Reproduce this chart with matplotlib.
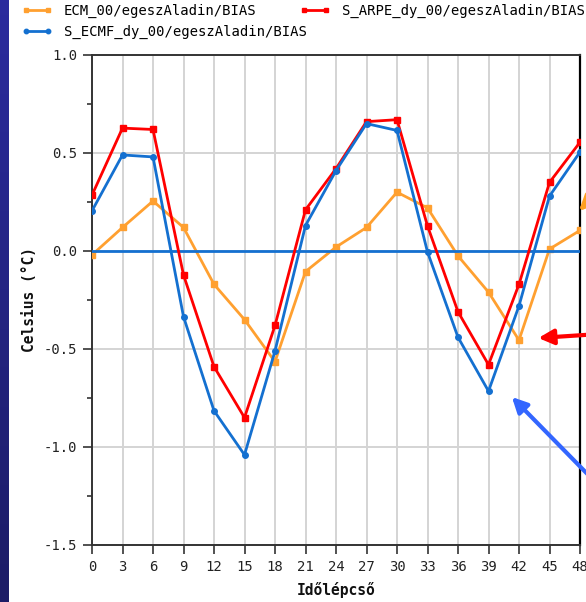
import numpy as np
import matplotlib
matplotlib.use("Agg")
import matplotlib.pyplot as plt
from matplotlib.ticker import MultipleLocator, FormatStrFormatter

# forecast step (hours)
steps = list(range(0, 49, 3))

ecm_bias = [-0.02, 0.12, 0.255, 0.12, -0.17, -0.35, -0.565, -0.105, 0.02, 0.12,
            0.30, 0.22, -0.025, -0.21, -0.455, 0.01, 0.105]
arpe_bias = [0.285, 0.627, 0.62, -0.122, -0.59, -0.85, -0.38, 0.21, 0.42, 0.66,
             0.67, 0.128, -0.31, -0.58, -0.17, 0.35, 0.555]
ecmf_bias = [0.205, 0.49, 0.48, -0.335, -0.815, -1.04, -0.51, 0.13, 0.41, 0.65,
             0.615, -0.005, -0.44, -0.715, -0.28, 0.28, 0.505]

labels = ["ECM_00/egeszAladin/BIAS", "S_ARPE_dy_00/egeszAladin/BIAS",
          "S_ECMF_dy_00/egeszAladin/BIAS"]

c_orange = "#ffa030"
c_red = "#ff0000"
c_blue = "#1470d0"

W, H = 586, 602
fig = plt.figure(figsize=(W / 100, H / 100), dpi=100)
fig.patch.set_facecolor("white")

# dark gradient strip on the left edge
strip = fig.add_axes([0, 0, 9 / W, 1])
grad = np.linspace(0, 1, 256).reshape(-1, 1)
top = np.array([0.17, 0.17, 0.62])
bot = np.array([0.11, 0.11, 0.40])
img = top[None, None, :] * (1 - grad[:, :, None]) + bot[None, None, :] * grad[:, :, None]
strip.imshow(img, aspect="auto", extent=[0, 1, 0, 1])
strip.set_axis_off()

ax = fig.add_axes([92 / W, 1 - 545 / H, 488 / W, 490 / H])

mono = "DejaVu Sans Mono"
l1, = ax.plot(steps, ecm_bias, color=c_orange, lw=2, marker="s", ms=4, zorder=3)
l2, = ax.plot(steps, arpe_bias, color=c_red, lw=2, marker="s", ms=4, zorder=4)
l3, = ax.plot(steps, ecmf_bias, color=c_blue, lw=2, marker="o", ms=4, zorder=5)
ax.axhline(0, color=c_blue, lw=2, zorder=3.5)

ax.set_xlim(0, 48)
ax.set_ylim(-1.5, 1.0)
ax.set_xticks(steps)
ax.xaxis.set_ticks_position("bottom")
ax.yaxis.set_major_locator(MultipleLocator(0.5))
ax.yaxis.set_minor_locator(MultipleLocator(0.25))
ax.yaxis.set_major_formatter(FormatStrFormatter("%.1f"))
ax.grid(True, which="major", color="#d4d4d4", lw=1.4, zorder=0)
ax.tick_params(axis="both", which="major", length=6.5, width=1.2, color="#333333",
               labelsize=10, labelcolor="#222222", pad=4)
ax.tick_params(axis="y", which="minor", length=3.5, width=1.2, color="#333333")
for lab in ax.get_xticklabels() + ax.get_yticklabels():
    lab.set_fontfamily(mono)
for side in ["left", "bottom", "top"]:
    ax.spines[side].set_color("#333333")
    ax.spines[side].set_linewidth(1.4)
ax.spines["right"].set_color("black")
ax.spines["right"].set_linewidth(1.6)

ax.set_xlabel("Időlépcső", fontfamily=mono, fontweight="bold", fontsize=10.5,
              color="#111111", labelpad=6)
ax.set_ylabel("Celsius (°C)", fontfamily=mono, fontweight="bold", fontsize=10.5,
              color="#111111")
ax.yaxis.set_label_coords(-0.112, 0.5)

# legend entries flow left to right, so place them as two blocks
leg_kw = dict(loc="upper left", frameon=False, borderpad=0, borderaxespad=0,
              handlelength=2.2, handletextpad=0.8, labelspacing=0.45,
              numpoints=2, markerscale=0.8, prop={"family": mono, "size": 10})
fig.legend([l1, l3], [labels[0], labels[2]],
           bbox_to_anchor=(22 / W, 1 - 4 / H), **leg_kw)
fig.legend([l2], [labels[1]],
           bbox_to_anchor=(300 / W, 1 - 4 / H), **leg_kw)

# pointer arrows coming in from the right edge
arrows = [((47.9, 0.205), (660, 470), "#ffa020"),
          ((43.9, -0.444), (660, 272), "#ff0000"),
          ((41.3, -0.745), (660, 54), "#3366ff")]
for xy, tail, col in arrows:
    ax.annotate("", xy=xy, xycoords="data", xytext=tail, textcoords="figure pixels",
                annotation_clip=False,
                arrowprops=dict(arrowstyle="-|>,head_length=0.9,head_width=0.45",
                                color=col, lw=3, shrinkA=0, shrinkB=0),
                zorder=6)

fig.savefig("out.png", dpi=100)
